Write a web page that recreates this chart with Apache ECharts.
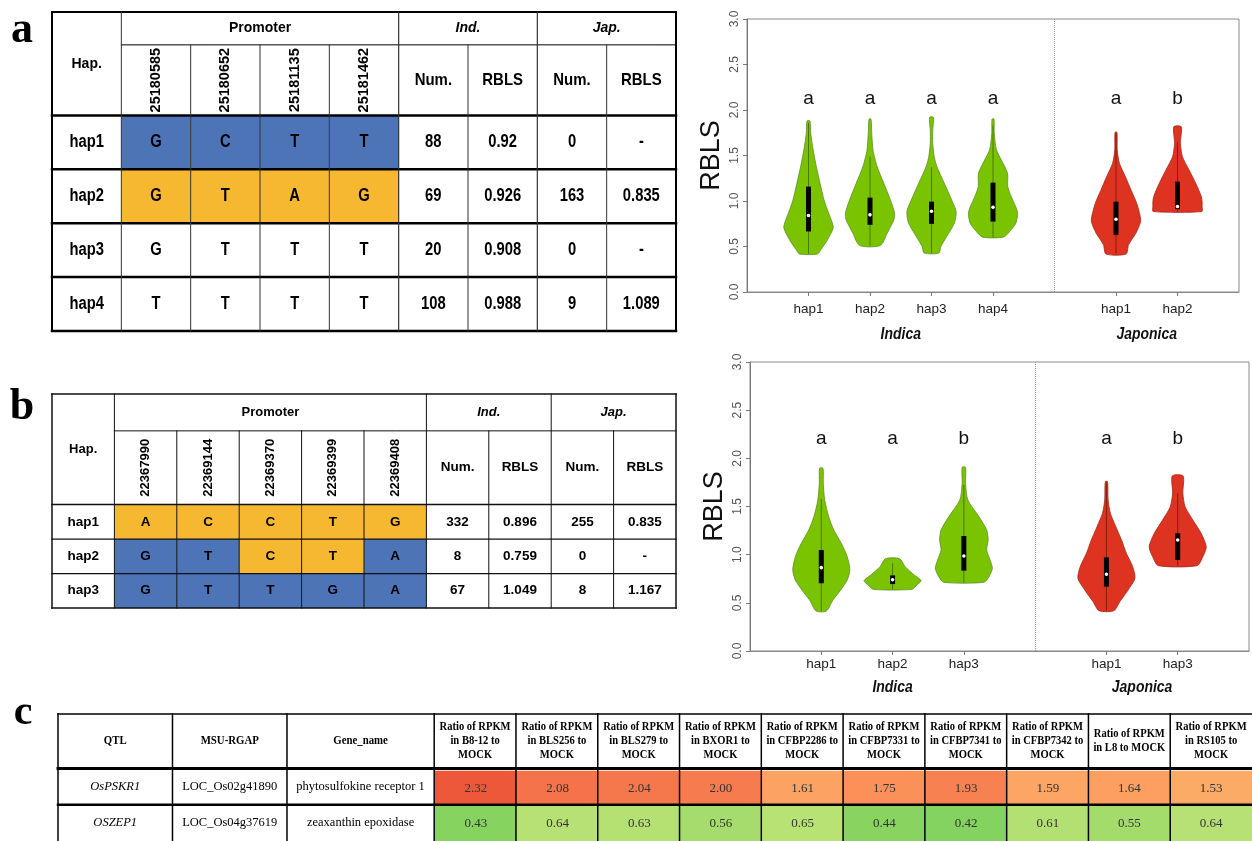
<!DOCTYPE html>
<html>
<head>
<meta charset="utf-8">
<script src="https://cdn.jsdelivr.net/npm/echarts@6/dist/echarts.min.js"></script>
<style>
  html, body { margin: 0; padding: 0; background: #fff; }
  #main { width: 1252px; height: 841px; }
</style>
</head>
<body>
<div id="main"></div>
<script>
// ---------- Panel a: haplotype table ----------
const aSnps = ['25180585', '25180652', '25181135', '25181462'];
const aHaps = ['hap1', 'hap2', 'hap3', 'hap4'];
const aAlleles = [['G', 'C', 'T', 'T'], ['G', 'T', 'A', 'G'], ['G', 'T', 'T', 'T'], ['T', 'T', 'T', 'T']];
const aShade = [['blue', 'blue', 'blue', 'blue'], ['gold', 'gold', 'gold', 'gold'], [null, null, null, null], [null, null, null, null]];
const aIndNum = ['88', '69', '20', '108'];
const aIndRBLS = ['0.92', '0.926', '0.908', '0.988'];
const aJapNum = ['0', '163', '0', '9'];
const aJapRBLS = ['-', '0.835', '-', '1.089'];

// ---------- Panel b: haplotype table ----------
const bSnps = ['22367990', '22369144', '22369370', '22369399', '22369408'];
const bHaps = ['hap1', 'hap2', 'hap3'];
const bAlleles = [['A', 'C', 'C', 'T', 'G'], ['G', 'T', 'C', 'T', 'A'], ['G', 'T', 'T', 'G', 'A']];
const bShade = [['gold', 'gold', 'gold', 'gold', 'gold'], ['blue', 'blue', 'gold', 'gold', 'blue'], ['blue', 'blue', 'blue', 'blue', 'blue']];
const bIndNum = ['332', '8', '67'];
const bIndRBLS = ['0.896', '0.759', '1.049'];
const bJapNum = ['255', '0', '8'];
const bJapRBLS = ['0.835', '-', '1.167'];

const subHeaders = ['Num.', 'RBLS', 'Num.', 'RBLS'];

// ---------- Panel a: violins (RBLS by haplotype) ----------
const aCategories = ['', 'hap1', 'hap2', 'hap3', 'hap4', '', 'hap1', 'hap2', ''];
const aSlots = [1, 2, 3, 4, 6, 7];
const aGroupOf = ['Indica', 'Indica', 'Indica', 'Indica', 'Japonica', 'Japonica'];
const aLetters = ['a', 'a', 'a', 'a', 'a', 'b'];
// density outline: [RBLS, relative density]
const aProfiles = [
  [[0.417, 0.36], [0.464, 0.5], [0.573, 0.77], [0.70, 1.0], [0.757, 0.97], [0.902, 0.77], [1.012, 0.63], [1.195, 0.47], [1.377, 0.32], [1.56, 0.19], [1.743, 0.09], [1.88, 0.06]],
  [[0.511, 0.42], [0.647, 0.7], [0.793, 0.97], [0.866, 1.0], [1.012, 0.83], [1.195, 0.56], [1.377, 0.29], [1.487, 0.18], [1.56, 0.12], [1.743, 0.07], [1.90, 0.04]],
  [[0.428, 0.30], [0.50, 0.38], [0.61, 0.62], [0.757, 0.93], [0.884, 1.0], [1.012, 0.82], [1.195, 0.52], [1.377, 0.22], [1.487, 0.11], [1.634, 0.05], [1.78, 0.05], [1.92, 0.08]],
  [[0.603, 0.42], [0.665, 0.68], [0.757, 0.93], [0.866, 1.0], [0.939, 0.92], [1.048, 0.74], [1.158, 0.6], [1.305, 0.59], [1.45, 0.34], [1.56, 0.14], [1.743, 0.05], [1.90, 0.04]],
  [[0.417, 0.41], [0.519, 0.51], [0.647, 0.81], [0.774, 1.0], [0.848, 0.97], [0.976, 0.84], [1.122, 0.61], [1.268, 0.38], [1.414, 0.14], [1.56, 0.05], [1.754, 0.04]],
  [[0.884, 0.99], [0.939, 1.0], [0.993, 1.0], [1.048, 0.97], [1.195, 0.74], [1.341, 0.47], [1.487, 0.2], [1.634, 0.12], [1.816, 0.15]]
];
// [whisker low, Q1, median, Q3, whisker high]
const aStats = [
  [0.42, 0.665, 0.84, 1.158, 1.86],
  [0.51, 0.738, 0.848, 1.037, 1.49],
  [0.43, 0.749, 0.887, 0.993, 1.37],
  [0.60, 0.774, 0.932, 1.202, 1.83],
  [0.42, 0.628, 0.80, 0.993, 1.75],
  [0.885, 0.91, 0.94, 1.213, 1.65]
];

// ---------- Panel b: violins ----------
const bCategories = ['', 'hap1', 'hap2', 'hap3', '', 'hap1', 'hap3', ''];
const bSlots = [1, 2, 3, 5, 6];
const bGroupOf = ['Indica', 'Indica', 'Indica', 'Japonica', 'Japonica'];
const bLetters = ['a', 'a', 'b', 'a', 'b'];
const bProfiles = [
  [[0.415, 0.18], [0.529, 0.41], [0.633, 0.68], [0.737, 0.91], [0.841, 1.0], [0.979, 0.91], [1.118, 0.7], [1.256, 0.44], [1.394, 0.26], [1.568, 0.12], [1.741, 0.07], [1.897, 0.06]],
  [[0.64, 0.68], [0.685, 0.85], [0.73, 1.0], [0.789, 0.76], [0.875, 0.44], [0.958, 0.25]],
  [[0.713, 0.7], [0.771, 0.88], [0.858, 1.0], [0.945, 0.92], [1.048, 0.8], [1.152, 0.85], [1.256, 0.8], [1.394, 0.53], [1.568, 0.14], [1.741, 0.06], [1.907, 0.06]],
  [[0.418, 0.26], [0.512, 0.47], [0.633, 0.76], [0.754, 1.0], [0.875, 0.92], [1.014, 0.7], [1.152, 0.53], [1.29, 0.33], [1.429, 0.14], [1.568, 0.06], [1.758, 0.04]],
  [[0.886, 0.68], [0.979, 0.88], [1.083, 1.0], [1.222, 0.82], [1.36, 0.53], [1.498, 0.26], [1.637, 0.18], [1.817, 0.19]]
];
const bStats = [
  [0.415, 0.703, 0.865, 1.048, 1.58],
  [0.64, 0.695, 0.74, 0.785, 0.91],
  [0.713, 0.834, 0.986, 1.194, 1.725],
  [0.418, 0.668, 0.796, 0.972, 1.75],
  [0.886, 0.945, 1.152, 1.222, 1.637]
];

const groupNames = ['Indica', 'Japonica'];
const aGroupSpan = [[1, 4], [6, 7]];
const bGroupSpan = [[1, 3], [5, 6]];
const yTicks = [0, 0.5, 1, 1.5, 2, 2.5, 3];

// ---------- Panel c: expression table ----------
const cStrains = ['B8-12', 'BLS256', 'BLS279', 'BXOR1', 'CFBP2286', 'CFBP7331', 'CFBP7341', 'CFBP7342', 'L8', 'RS105'];
const cFixedHeaders = ['QTL', 'MSU-RGAP', 'Gene_name'];
const cGenes = ['OsPSKR1', 'OSZEP1'];
const cLoci = ['LOC_Os02g41890', 'LOC_Os04g37619'];
const cNames = ['phytosulfokine receptor 1', 'zeaxanthin epoxidase'];
const cRatios = [
  [2.32, 2.08, 2.04, 2.00, 1.61, 1.75, 1.93, 1.59, 1.64, 1.53],
  [0.43, 0.64, 0.63, 0.56, 0.65, 0.44, 0.42, 0.61, 0.55, 0.64]
];

// ---------- styling ----------
const SANS = "'Liberation Sans', Arial, sans-serif";
const SERIF = "'Liberation Serif', 'Times New Roman', serif";
const NARROW_SCALE = 0.82;   // condensed look, emulated by a horizontal text scale
const shadeColors = { blue: '#4e74b8', gold: '#f6b731' };
const groupStyle = {
  Indica: { fill: '#79c300', stroke: '#5f8f1e', whisker: '#4b7800' },
  Japonica: { fill: '#dd3320', stroke: '#a02a1c', whisker: '#8c1a10' }
};

// ---------- table helpers ----------
function hLine(r, c0, c1, w, color) { return { c: [c0, c1], r: [r, r], w, color }; }
function vLine(c, r0, r1, w, color) { return { c: [c, c], r: [r0, r1], w, color }; }

function buildHapTable(t) {
  const n = t.snps.length;
  const colInd = 1 + n, colJap = colInd + 2;
  const italic = Object.assign({}, t.headFont, { fontStyle: 'italic' });
  const cells = [];
  cells.push({ c: [0, 1], r: [0, 2], text: 'Hap.', font: t.headFont });
  cells.push({ c: [1, 1 + n], r: [0, 1], text: 'Promoter', font: t.headFont });
  cells.push({ c: [colInd, colInd + 2], r: [0, 1], text: 'Ind.', font: italic });
  cells.push({ c: [colJap, colJap + 2], r: [0, 1], text: 'Jap.', font: italic });
  t.snps.forEach((s, k) => cells.push({ c: [1 + k, 2 + k], r: [1, 2], text: s, font: t.snpFont, rotate: true }));
  subHeaders.forEach((s, k) => cells.push({ c: [colInd + k, colInd + k + 1], r: [1, 2], text: s, font: t.subFont, sx: t.subScale }));
  t.haps.forEach((h, i) => {
    const r = [2 + i, 3 + i];
    cells.push({ c: [0, 1], r, text: h, font: t.bodyFont, sx: t.bodyScale });
    t.alleles[i].forEach((a, k) => cells.push({ c: [1 + k, 2 + k], r, text: a, fill: shadeColors[t.shade[i][k]], font: t.bodyFont, sx: t.bodyScale }));
    [t.indNum[i], t.indRBLS[i], t.japNum[i], t.japRBLS[i]].forEach((v, k) =>
      cells.push({ c: [colInd + k, colInd + k + 1], r, text: v, font: t.bodyFont, sx: t.bodyScale }));
  });
  return cells;
}

function cellRenderer(cells, colEdges, rowEdges) {
  return function (params, api) {
    const cell = cells[params.dataIndex];
    const p0 = api.coord([colEdges[cell.c[0]], rowEdges[cell.r[0]]]);
    const p1 = api.coord([colEdges[cell.c[1]], rowEdges[cell.r[1]]]);
    const x = Math.min(p0[0], p1[0]), y = Math.min(p0[1], p1[1]);
    const w = Math.abs(p1[0] - p0[0]), h = Math.abs(p1[1] - p0[1]);
    const children = [];
    if (cell.fill) children.push({ type: 'rect', shape: { x, y, width: w, height: h }, style: { fill: cell.fill } });
    if (cell.text != null) {
      children.push({
        type: 'text', x: x + w / 2, y: y + h / 2, rotation: cell.rotate ? Math.PI / 2 : 0,
        scaleX: cell.sx || 1,
        style: Object.assign({ text: cell.text, align: 'center', verticalAlign: 'middle', fill: '#000' }, cell.font)
      });
    }
    return { type: 'group', children };
  };
}

function frameRenderer(lines, colEdges, rowEdges, defaultColor) {
  return function (params, api) {
    return {
      type: 'group',
      children: lines.map(l => {
        const a = api.coord([colEdges[l.c[0]], rowEdges[l.r[0]]]);
        const b = api.coord([colEdges[l.c[1]], rowEdges[l.r[1]]]);
        return { type: 'line', shape: { x1: a[0], y1: a[1], x2: b[0], y2: b[1] }, style: { stroke: l.color || defaultColor, lineWidth: l.w, lineCap: 'square' } };
      })
    };
  };
}

function tableSeries(gridIndex, cells, lines, colEdges, rowEdges, lineColor) {
  return [
    {
      type: 'custom', xAxisIndex: gridIndex, yAxisIndex: gridIndex, clip: false, silent: true, z: 2,
      data: cells.map(c => [(colEdges[c.c[0]] + colEdges[c.c[1]]) / 2, (rowEdges[c.r[0]] + rowEdges[c.r[1]]) / 2]),
      renderItem: cellRenderer(cells, colEdges, rowEdges)
    },
    {
      type: 'custom', xAxisIndex: gridIndex, yAxisIndex: gridIndex, clip: false, silent: true, z: 5,
      data: [[0, 0]],
      renderItem: frameRenderer(lines, colEdges, rowEdges, lineColor)
    }
  ];
}

// ---------- violin helpers ----------
function violinSeries(axisIndex, slots, groupOf, profiles, stats, letters, letterLevel, divider) {
  return {
    type: 'custom', xAxisIndex: axisIndex, yAxisIndex: axisIndex, clip: false, silent: true, z: 3,
    data: slots.map((s, i) => [s, stats[i][2]]),
    renderItem(params, api) {
      const i = params.dataIndex;
      const slot = api.value(0);
      const st = groupStyle[groupOf[i]];
      const cx = api.coord([slot, 0])[0];
      const band = Math.abs(api.coord([1, 0])[0] - api.coord([0, 0])[0]);
      const half = band * 0.4;
      const left = [], right = [];
      profiles[i].forEach(([v, d]) => {
        const y = api.coord([slot, v])[1];
        left.push([cx - d * half, y]);
        right.unshift([cx + d * half, y]);
      });
      const s = stats[i];
      const yLo = api.coord([slot, s[0]])[1], yQ1 = api.coord([slot, s[1]])[1];
      const yMed = api.coord([slot, s[2]])[1], yQ3 = api.coord([slot, s[3]])[1];
      const yHi = api.coord([slot, s[4]])[1];
      const yLetter = api.coord([slot, letterLevel])[1];
      return {
        type: 'group',
        children: [
          { type: 'polygon', shape: { points: left.concat(right), smooth: 0.25 }, style: { fill: st.fill, stroke: st.stroke, lineWidth: 0.8 } },
          { type: 'line', shape: { x1: cx, y1: yLo, x2: cx, y2: yHi }, style: { stroke: st.whisker, lineWidth: 1 } },
          { type: 'rect', shape: { x: cx - 2.5, y: yQ3, width: 5, height: yQ1 - yQ3 }, style: { fill: '#000' } },
          { type: 'circle', shape: { cx, cy: yMed, r: 1.8 }, style: { fill: '#fff' } },
          { type: 'text', x: cx, y: yLetter, style: { text: letters[i], align: 'center', verticalAlign: 'middle', fontFamily: SANS, fontSize: 19, fill: '#111' } }
        ]
      };
    },
    markLine: {
      silent: true, symbol: ['none', 'none'], label: { show: false }, animation: false,
      lineStyle: { type: 'dotted', color: '#999', width: 1 },
      data: [{ xAxis: divider }]
    }
  };
}

function groupLabelSeries(axisIndex, spans, offset) {
  return {
    type: 'custom', xAxisIndex: axisIndex, yAxisIndex: axisIndex, clip: false, silent: true,
    data: spans.map(sp => [sp[0], 0]),
    renderItem(params, api) {
      const sp = spans[params.dataIndex];
      const a = api.coord([sp[0], 0]), b = api.coord([sp[1], 0]);
      return {
        type: 'text', x: (a[0] + b[0]) / 2, y: a[1] + offset, scaleX: NARROW_SCALE,
        style: { text: groupNames[params.dataIndex], align: 'center', verticalAlign: 'middle', fontFamily: SANS, fontWeight: 'bold', fontStyle: 'italic', fontSize: 17, fill: '#111' }
      };
    }
  };
}

function violinAxes(gridIndex, categories, labelMargin) {
  const x = {
    type: 'category', gridIndex, data: categories, boundaryGap: false,
    axisLine: { show: true, lineStyle: { color: '#888', width: 1 } },
    axisTick: { show: true, length: 4, interval: (idx, val) => val !== '', lineStyle: { color: '#777' } },
    axisLabel: { interval: 0, margin: labelMargin, fontFamily: SANS, fontSize: 13.5, color: '#222' },
    splitLine: { show: false }
  };
  const y = {
    type: 'value', gridIndex, min: 0, max: 3, interval: 0.5,
    axisLine: { show: true, lineStyle: { color: '#777', width: 1 } },
    axisTick: { show: true, length: 4, lineStyle: { color: '#777' } },
    axisLabel: { rotate: 90, margin: 6, fontFamily: SANS, fontSize: 12, color: '#555', formatter: v => (yTicks.indexOf(v) >= 0 ? v.toFixed(1) : '') },
    splitLine: { show: false },
    name: 'RBLS', nameLocation: 'middle', nameRotate: 90, nameGap: 22,
    nameTextStyle: { fontFamily: SANS, fontSize: 27, color: '#111' }
  };
  return [x, y];
}

// ---------- layout of tables (relative units) ----------
const aColEdges = [0, 1, 2, 3, 4, 5, 6, 7, 8, 9];
const aRowEdges = [0, 0.61, 1.92, 2.92, 3.92, 4.92, 5.92];
const bColEdges = [0, 1, 2, 3, 4, 5, 6, 7, 8, 9, 10];
const bRowEdges = [0, 1.07, 3.21, 4.21, 5.21, 6.21];
const cColEdges = [0, 1.4, 2.8, 4.6, 5.6, 6.6, 7.6, 8.6, 9.6, 10.6, 11.6, 12.6, 13.6, 14.6];
const cRowEdges = [0, 1.5, 2.5, 3.5];

const aCells = buildHapTable({
  snps: aSnps, haps: aHaps, alleles: aAlleles, shade: aShade,
  indNum: aIndNum, indRBLS: aIndRBLS, japNum: aJapNum, japRBLS: aJapRBLS,
  headFont: { fontFamily: SANS, fontWeight: 'bold', fontSize: 14 },
  snpFont: { fontFamily: SANS, fontWeight: 'bold', fontSize: 14.5 },
  subFont: { fontFamily: SANS, fontWeight: 'bold', fontSize: 17 }, subScale: 0.88,
  bodyFont: { fontFamily: SANS, fontWeight: 'bold', fontSize: 18 }, bodyScale: NARROW_SCALE
});
const aLines = [
  hLine(0, 0, 9, 2), hLine(1, 1, 9, 1), hLine(2, 0, 9, 2.5), hLine(3, 0, 9, 2.5),
  hLine(4, 0, 9, 2.5), hLine(5, 0, 9, 2.5), hLine(6, 0, 9, 2.5),
  vLine(0, 0, 6, 2), vLine(9, 0, 6, 2), vLine(1, 0, 6, 1, '#333'),
  vLine(2, 1, 6, 1, '#333'), vLine(3, 1, 6, 1, '#333'), vLine(4, 1, 6, 1, '#333'),
  vLine(5, 0, 6, 1.2, '#333'), vLine(6, 1, 6, 1, '#333'), vLine(7, 0, 6, 1.2, '#333'), vLine(8, 1, 6, 1, '#333')
];

const bCells = buildHapTable({
  snps: bSnps, haps: bHaps, alleles: bAlleles, shade: bShade,
  indNum: bIndNum, indRBLS: bIndRBLS, japNum: bJapNum, japRBLS: bJapRBLS,
  headFont: { fontFamily: SANS, fontWeight: 'bold', fontSize: 13 },
  snpFont: { fontFamily: SANS, fontWeight: 'bold', fontSize: 13 },
  subFont: { fontFamily: SANS, fontWeight: 'bold', fontSize: 13.5 }, subScale: 1,
  bodyFont: { fontFamily: SANS, fontWeight: 'bold', fontSize: 13.5 }, bodyScale: 1
});
const bLines = [
  hLine(0, 0, 10, 1.5), hLine(1, 1, 10, 1), hLine(2, 0, 10, 1.5), hLine(3, 0, 10, 1.2),
  hLine(4, 0, 10, 1.2), hLine(5, 0, 10, 1.5),
  vLine(0, 0, 5, 1.5), vLine(10, 0, 5, 1.5), vLine(1, 0, 5, 1),
  vLine(2, 1, 5, 1), vLine(3, 1, 5, 1), vLine(4, 1, 5, 1), vLine(5, 1, 5, 1),
  vLine(6, 0, 5, 1), vLine(7, 1, 5, 1), vLine(8, 0, 5, 1), vLine(9, 1, 5, 1)
];

// table c: text cells (ratio cells are drawn by the heatmap below)
const cHeadFont = { fontFamily: SERIF, fontWeight: 'bold', fontSize: 12, lineHeight: 14 };
const cBodyFont = { fontFamily: SERIF, fontSize: 12.5 };
const cCells = [];
cFixedHeaders.forEach((h, k) => cCells.push({ c: [k, k + 1], r: [0, 1], text: h, font: cHeadFont, sx: 0.9 }));
cStrains.forEach((s, k) => {
  const label = s.length <= 2 ? 'Ratio of RPKM\nin ' + s + ' to MOCK' : 'Ratio of RPKM\nin ' + s + ' to\nMOCK';
  cCells.push({ c: [3 + k, 4 + k], r: [0, 1], text: label, font: cHeadFont, sx: 0.88 });
});
cGenes.forEach((g, i) => {
  const r = [1 + i, 2 + i];
  cCells.push({ c: [0, 1], r, text: g, font: Object.assign({ fontStyle: 'italic' }, cBodyFont) });
  cCells.push({ c: [1, 2], r, text: cLoci[i], font: cBodyFont });
  cCells.push({ c: [2, 3], r, text: cNames[i], font: cBodyFont });
});
const cLines = [hLine(0, 0, 13, 1.5), hLine(1, 0, 13, 3), hLine(2, 0, 13, 2.5)];
for (let k = 0; k <= 12; k++) cLines.push(vLine(k, 0, 3, 1.5));

const heatData = [];
cRatios.forEach((row, i) => row.forEach((v, k) => heatData.push([k, i, v])));

function tableAxes(gridIndex, colEdges, rowEdges) {
  return [
    { type: 'value', gridIndex, min: 0, max: colEdges[colEdges.length - 1], show: false },
    { type: 'value', gridIndex, min: 0, max: rowEdges[rowEdges.length - 1], inverse: true, show: false }
  ];
}

const [axA_x, axA_y] = tableAxes(0, aColEdges, aRowEdges);
const [axB_x, axB_y] = tableAxes(1, bColEdges, bRowEdges);
const [axC_x, axC_y] = tableAxes(2, cColEdges, cRowEdges);
const [vaX, vaY] = violinAxes(4, aCategories, 10);
const [vbX, vbY] = violinAxes(5, bCategories, 6);

const series = [].concat(
  tableSeries(0, aCells, aLines, aColEdges, aRowEdges, '#000'),
  tableSeries(1, bCells, bLines, bColEdges, bRowEdges, '#111'),
  tableSeries(2, cCells, cLines, cColEdges, cRowEdges, '#000'),
  [{
    type: 'heatmap', xAxisIndex: 3, yAxisIndex: 3, data: heatData, silent: true, z: 1,
    label: { show: true, formatter: p => p.value[2].toFixed(2), fontFamily: SERIF, fontSize: 13, color: '#333' },
    emphasis: { disabled: true }
  }],
  [violinSeries(4, aSlots, aGroupOf, aProfiles, aStats, aLetters, 2.12, 5), groupLabelSeries(4, aGroupSpan, 42)],
  [violinSeries(5, bSlots, bGroupOf, bProfiles, bStats, bLetters, 2.2, 4), groupLabelSeries(5, bGroupSpan, 36)]
);
const heatSeriesIndex = 6;

const chart = echarts.init(document.getElementById('main'), null, { width: 1252, height: 841, renderer: 'canvas' });
chart.setOption({
  animation: false,
  backgroundColor: '#fff',
  grid: [
    { left: 52, top: 12, width: 624, height: 319, show: false },
    { left: 52, top: 394, width: 624, height: 214, show: false },
    { left: 58, top: 714, width: 1197, height: 133, show: false },
    { left: 435, top: 771, width: 820, height: 76, show: false },
    { left: 747, top: 19, width: 492, height: 273, show: true, borderColor: '#8a8a8a', borderWidth: 1 },
    { left: 750, top: 362, width: 499, height: 289, show: true, borderColor: '#8a8a8a', borderWidth: 1 }
  ],
  xAxis: [
    axA_x, axB_x, axC_x,
    { type: 'category', gridIndex: 3, data: cStrains, show: false },
    vaX, vbX
  ],
  yAxis: [
    axA_y, axB_y, axC_y,
    { type: 'category', gridIndex: 3, data: cGenes, inverse: true, show: false },
    vaY, vbY
  ],
  visualMap: {
    type: 'continuous', show: false, seriesIndex: heatSeriesIndex, dimension: 2, min: 0.4, max: 2.4,
    inRange: { color: ['#7fd15d', '#b0df71', '#d4eb80', '#f5ef8a', '#fdd37a', '#fdb86c', '#fca464', '#fa8b55', '#f67b4e', '#f26643', '#ec4e34'] }
  },
  graphic: [
    { type: 'text', x: 22, y: 31, style: { text: 'a', align: 'center', verticalAlign: 'middle', fontFamily: SERIF, fontWeight: 'bold', fontSize: 44, fill: '#000' } },
    { type: 'text', x: 22, y: 408, style: { text: 'b', align: 'center', verticalAlign: 'middle', fontFamily: SERIF, fontWeight: 'bold', fontSize: 44, fill: '#000' } },
    { type: 'text', x: 23, y: 713, style: { text: 'c', align: 'center', verticalAlign: 'middle', fontFamily: SERIF, fontWeight: 'bold', fontSize: 42, fill: '#000' } }
  ],
  series
});
</script>
</body>
</html>
